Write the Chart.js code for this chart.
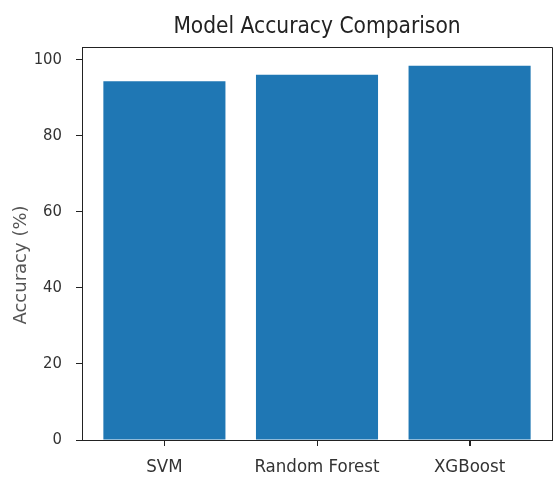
<!DOCTYPE html>
<html>
<head>
<meta charset="utf-8">
<script src="https://cdn.jsdelivr.net/npm/chart.js@4"></script>
<style>
  html, body { margin: 0; padding: 0; background: #fff; }
  #wrap { width: 553px; height: 481px; }
</style>
</head>
<body>
<div id="wrap"><canvas id="chart" width="553" height="481"></canvas></div>
<script>
// Data
const categories = ['SVM', 'Random Forest', 'XGBoost'];
const accuracy = [94.3, 96.0, 98.4];
const yTicks = [0, 20, 40, 60, 80, 100];
const yLabel = 'Accuracy (%)';

// matplotlib-style margins round the bars
const xMin = -0.54;
const xMax = 2.54;
const yMax = 103.3;

// top/right sides of the axes box, x tick marks, and the y label
// (the label sits a bit below centre in the reference)
const frame = {
    id: 'frame',
    afterDraw(chart) {
        const { ctx, chartArea } = chart;
        const xs = chart.scales.x;
        ctx.save();
        ctx.strokeStyle = '#222';
        ctx.lineWidth = 1;
        ctx.beginPath();
        ctx.moveTo(chartArea.left, chartArea.top + 0.5);
        ctx.lineTo(chartArea.right + 0.5, chartArea.top + 0.5);
        ctx.lineTo(chartArea.right + 0.5, chartArea.bottom);
        categories.forEach((c, i) => {
            const px = Math.round(xs.getPixelForValue(i)) + 0.5;
            ctx.moveTo(px, chartArea.bottom);
            ctx.lineTo(px, chartArea.bottom + 6);
        });
        ctx.stroke();

        ctx.translate(21, 265);
        ctx.rotate(-Math.PI / 2);
        ctx.fillStyle = '#555';
        ctx.font = '18px "DejaVu Sans", sans-serif';
        ctx.textAlign = 'center';
        ctx.textBaseline = 'middle';
        ctx.fillText(yLabel, 0, 0);
        ctx.restore();
    }
};

const condensed = '"DejaVu Sans Condensed", "DejaVu Sans", sans-serif';

new Chart(document.getElementById('chart'), {
    type: 'bar',
    data: {
        datasets: [{
            data: categories.map((c, i) => ({ x: i, y: accuracy[i] })),
            backgroundColor: '#1f77b4',
            borderWidth: 0,
            barPercentage: 0.8,
            categoryPercentage: 1
        }]
    },
    options: {
        responsive: false,
        animation: false,
        layout: { padding: { top: 0, left: 0, right: 1, bottom: 0 } },
        plugins: {
            legend: { display: false },
            tooltip: { enabled: false },
            title: {
                display: true,
                fullSize: false,
                text: 'Model Accuracy Comparison',
                color: '#222',
                font: { family: condensed, size: 22.5, weight: 'normal' },
                padding: { top: 14, bottom: 6 }
            }
        },
        scales: {
            x: {
                type: 'linear',
                min: xMin,
                max: xMax,
                offset: false,
                afterBuildTicks: s => { s.ticks = categories.map((c, i) => ({ value: i })); },
                afterFit: s => { s.height = 41; },
                ticks: {
                    callback: v => categories[v],
                    color: '#333',
                    font: { family: condensed, size: 18.5 },
                    padding: 10,
                    maxRotation: 0,
                    autoSkip: false
                },
                grid: { offset: false, drawOnChartArea: false, tickLength: 6, color: '#222', tickColor: '#222' },
                border: { color: '#222', width: 1 }
            },
            y: {
                min: 0,
                max: yMax,
                afterBuildTicks: s => { s.ticks = yTicks.map(v => ({ value: v })); },
                afterFit: s => { s.width = 82; },
                ticks: {
                    color: '#333',
                    font: { family: condensed, size: 16.5 },
                    padding: 14
                },
                grid: { offset: false, drawOnChartArea: false, tickLength: 6, color: '#222' },
                border: { color: '#222', width: 1 }
            }
        }
    },
    plugins: [frame]
});
</script>
</body>
</html>
